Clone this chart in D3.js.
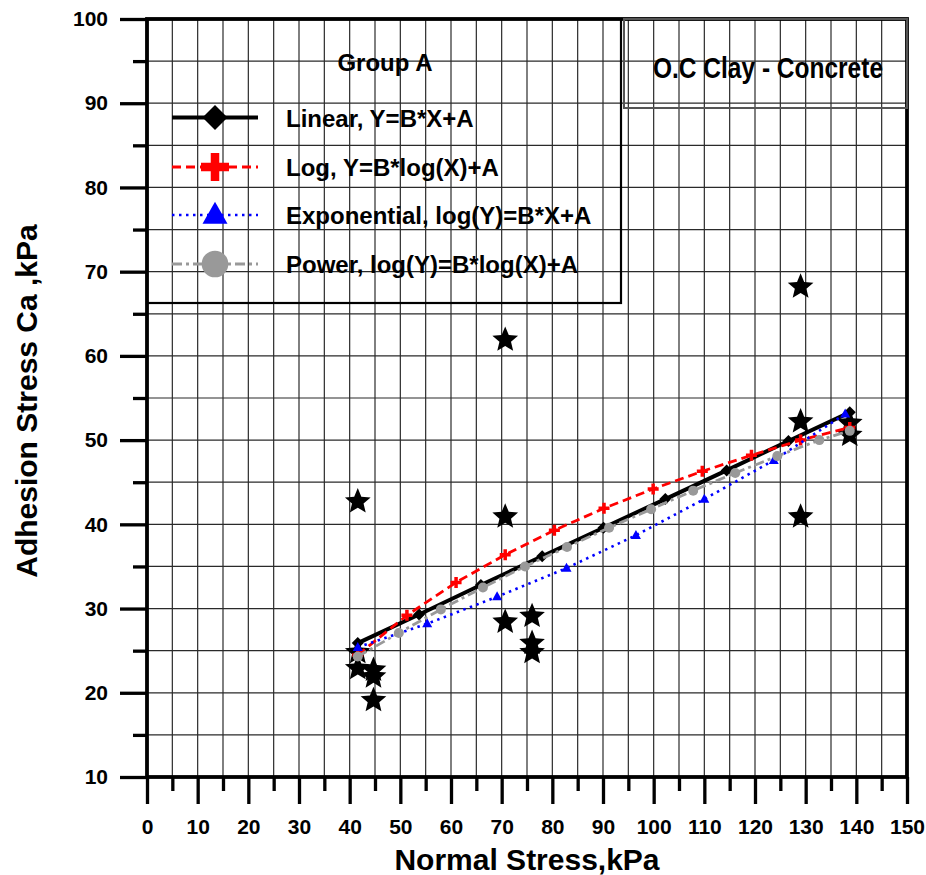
<!DOCTYPE html>
<html>
<head>
<meta charset="utf-8">
<script src="https://cdn.jsdelivr.net/npm/d3@7"></script>
<style>
  body { margin: 0; background: #fff; }
  svg { display: block; font-family: "Liberation Sans", Arial, sans-serif; font-weight: bold; }
</style>
</head>
<body>
<div id="chart"></div>
<script>
// measured points (black stars)
const starX = [41.6, 41.6, 41.6, 44.7, 44.7, 44.7, 70.7, 70.7, 70.7, 76.0, 76.0, 76.0, 129.0, 129.0, 129.0, 138.7, 138.7];
const starY = [42.7, 24.8, 22.9, 22.7, 21.9, 19.1, 61.9, 40.9, 28.4, 29.1, 25.9, 24.8, 68.2, 52.2, 40.9, 52.0, 50.6];

// fitted curves
const linX = [41.6, 53.7, 65.9, 78.0, 90.1, 102.3, 114.4, 126.6, 138.7];
const linY = [25.9, 29.3, 32.8, 36.2, 39.6, 43.0, 46.4, 49.9, 53.3];

const logX = [41.6, 51.3, 61.0, 70.7, 80.4, 90.2, 99.9, 109.6, 119.3, 129.0, 138.7];
const logY = [24.5, 29.2, 33.1, 36.4, 39.3, 41.9, 44.2, 46.3, 48.2, 50.0, 51.5];

const expX = [41.6, 55.3, 69.1, 82.8, 96.5, 110.0, 123.7, 137.8];
const expY = [25.4, 28.2, 31.4, 34.8, 38.7, 43.0, 47.6, 53.1];

const powX = [41.6, 49.7, 58.0, 66.3, 74.6, 82.9, 91.2, 99.5, 107.8, 116.1, 124.4, 132.7, 138.7];
const powY = [24.3, 27.1, 29.9, 32.5, 35.0, 37.3, 39.6, 41.8, 44.0, 46.1, 48.1, 50.0, 51.1];

const xTicks = [0, 10, 20, 30, 40, 50, 60, 70, 80, 90, 100, 110, 120, 130, 140, 150];
const yTicks = [10, 20, 30, 40, 50, 60, 70, 80, 90, 100];
const legendLabels = ['Linear, Y=B*X+A', 'Log, Y=B*log(X)+A', 'Exponential, log(Y)=B*X+A', 'Power, log(Y)=B*log(X)+A'];

const width = 926;
const height = 875;

const svg = d3.select('#chart').append('svg').attr('width', width).attr('height', height);

const x = d3.scaleLinear().domain([0, 150]).range([147, 907]);
const y = d3.scaleLinear().domain([10, 100]).range([777, 19]);

// grid
const grid = svg.append('g').attr('stroke', '#2a2a2a').attr('stroke-width', 1.2);
grid.selectAll('.gx').data(d3.range(5, 150, 5)).enter().append('line')
  .attr('x1', (d) => x(d)).attr('x2', (d) => x(d)).attr('y1', y(10)).attr('y2', y(100));
grid.selectAll('.gy').data(d3.range(15, 100, 5)).enter().append('line')
  .attr('y1', (d) => y(d)).attr('y2', (d) => y(d)).attr('x1', x(0)).attr('x2', x(150));

// axes
function styleAxis(g) {
  g.select('.domain').remove();
  g.selectAll('line').attr('stroke', '#000').attr('stroke-width', 3.3);
  g.selectAll('text').attr('font-size', 21).attr('font-weight', 'bold').attr('fill', '#000')
    .attr('font-family', '"Liberation Sans", Arial, sans-serif');
}

svg.append('g').attr('transform', `translate(${x(0)},0)`)
  .call(d3.axisLeft(y).tickValues(d3.range(15, 100, 10)).tickSize(14).tickFormat(''))
  .call(styleAxis);
svg.append('g').attr('transform', `translate(${x(0)},0)`)
  .call(d3.axisLeft(y).tickValues(yTicks).tickSize(27).tickPadding(12).tickFormat(d3.format('d')))
  .call(styleAxis);

svg.append('g').attr('transform', `translate(0,${y(10)})`)
  .call(d3.axisBottom(x).tickValues(d3.range(5, 150, 10)).tickSize(14).tickFormat(''))
  .call(styleAxis);
svg.append('g').attr('transform', `translate(0,${y(10)})`)
  .call(d3.axisBottom(x).tickValues(xTicks).tickSize(27).tickPadding(15).tickFormat(d3.format('d')))
  .call(styleAxis);

// frame
svg.append('rect').attr('x', x(0)).attr('y', y(100)).attr('width', x(150) - x(0)).attr('height', y(10) - y(100))
  .attr('fill', 'none').attr('stroke', '#000').attr('stroke-width', 3.8);

// axis titles
svg.append('text').attr('x', (x(0) + x(150)) / 2).attr('y', 870).attr('text-anchor', 'middle')
  .attr('font-size', 30).text('Normal Stress,kPa');
svg.append('text').attr('transform', `translate(37,401) rotate(-90)`).attr('text-anchor', 'middle')
  .attr('font-size', 30).text('Adhesion Stress Ca ,kPa');

// markers
function starPath(r) {
  const pts = [];
  for (let i = 0; i < 10; i++) {
    const rad = i % 2 ? r * 0.45 : r;
    const a = -Math.PI / 2 + (i * Math.PI) / 5;
    pts.push([rad * Math.cos(a), rad * Math.sin(a)]);
  }
  return 'M' + pts.join('L') + 'Z';
}
function diamondPath(r) {
  return `M0,${-r}L${r},0L0,${r}L${-r},0Z`;
}
function trianglePath(w, h) {
  return `M0,${-h * 0.6}L${w / 2},${h * 0.4}L${-w / 2},${h * 0.4}Z`;
}
function plusPath(r) {
  return `M${-r},0H${r}M0,${-r}V${r}`;
}

// stars
svg.append('g').selectAll('path').data(starX.map((d, i) => [d, starY[i]])).enter().append('path')
  .attr('d', starPath(13.5))
  .attr('transform', (d) => `translate(${x(d[0])},${y(d[1])})`)
  .attr('fill', '#000');

const line = d3.line().x((d) => x(d[0])).y((d) => y(d[1]));
const zip = (a, b) => a.map((d, i) => [d, b[i]]);

const series = [
  { pts: zip(linX, linY), color: '#000', width: 4, dash: null, marker: 'diamond' },
  { pts: zip(logX, logY), color: '#ff0000', width: 2.8, dash: '9,5', marker: 'plus' },
  { pts: zip(expX, expY), color: '#0000ff', width: 2.6, dash: '2.5,4.5', marker: 'triangle' },
  { pts: zip(powX, powY), color: '#999999', width: 2.8, dash: '10,4,3,4', marker: 'circle' },
];

function addMarker(g, type, color, big) {
  if (type === 'diamond') {
    g.append('path').attr('d', diamondPath(big ? 12.5 : 6)).attr('fill', color);
  } else if (type === 'plus') {
    g.append('path').attr('d', plusPath(big ? 14 : 5.5)).attr('stroke', color).attr('stroke-width', big ? 8.5 : 3.5).attr('fill', 'none');
  } else if (type === 'triangle') {
    g.append('path').attr('d', big ? trianglePath(25, 22) : trianglePath(10, 9)).attr('fill', color);
  } else {
    g.append('circle').attr('r', big ? 13.3 : 5).attr('fill', color);
  }
}

series.forEach((s) => {
  svg.append('path').datum(s.pts).attr('d', line).attr('fill', 'none')
    .attr('stroke', s.color).attr('stroke-width', s.width).attr('stroke-dasharray', s.dash);
  s.pts.forEach((p) => {
    const g = svg.append('g').attr('transform', `translate(${x(p[0])},${y(p[1])})`);
    addMarker(g, s.marker, s.color, false);
  });
});

// legend box
svg.append('rect').attr('x', 147).attr('y', 19).attr('width', 474).attr('height', 284)
  .attr('fill', 'none').attr('stroke', '#000').attr('stroke-width', 2.2);
svg.append('text').attr('x', 385).attr('y', 71).attr('text-anchor', 'middle').attr('font-size', 24).text('Group A');

const rowY = [117.5, 167, 215, 264];
series.forEach((s, i) => {
  svg.append('line').attr('x1', 172).attr('x2', 258).attr('y1', rowY[i]).attr('y2', rowY[i])
    .attr('stroke', s.color).attr('stroke-width', s.width).attr('stroke-dasharray', s.dash);
  const g = svg.append('g').attr('transform', `translate(215,${rowY[i]})`);
  addMarker(g, s.marker, s.color, true);
  svg.append('text').attr('x', 286).attr('y', rowY[i] + 9).attr('font-size', 24).text(legendLabels[i]);
});

// title box
svg.append('rect').attr('x', 624).attr('y', 19).attr('width', 283).attr('height', 89)
  .attr('fill', 'none').attr('stroke', '#555').attr('stroke-width', 2);
svg.append('text').attr('x', 768).attr('y', 78).attr('text-anchor', 'middle').attr('font-size', 29)
  .attr('textLength', 230).attr('lengthAdjust', 'spacingAndGlyphs').text('O.C Clay - Concrete');
</script>
</body>
</html>
